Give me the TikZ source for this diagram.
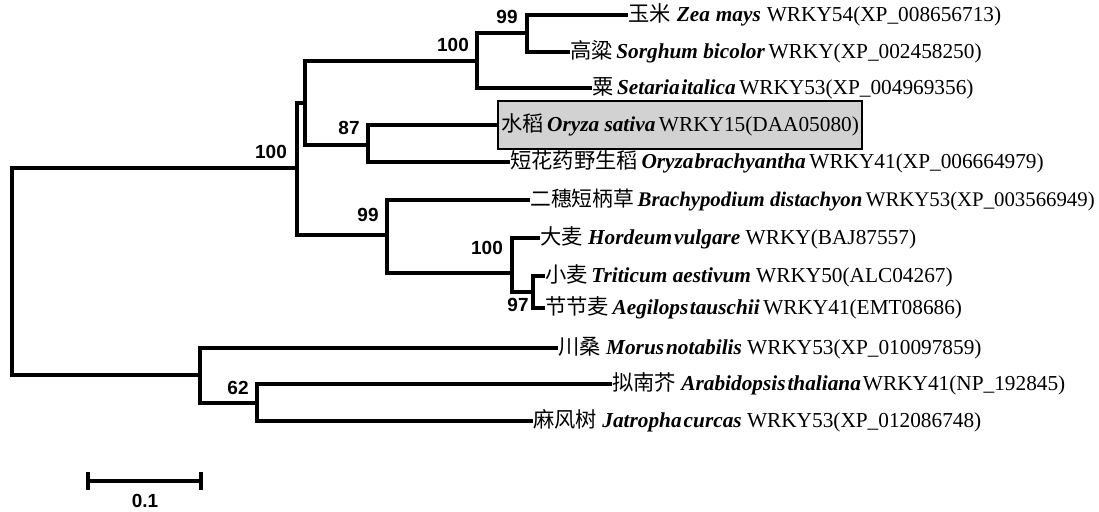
\documentclass[tikz,border=0pt]{standalone}
\usepackage{fontspec}
\setmainfont{Liberation Serif}
\newfontfamily\cjk{Noto Sans CJK SC}
\newfontfamily\bsfont{Liberation Sans}
\newcommand{\spname}[1]{\textbf{\textit{#1}}}
\begin{document}
\begin{tikzpicture}[x=1pt,y=-1pt,
  br/.style={line width=3.1pt, line join=miter},
  lbl/.style={anchor=west, inner sep=0pt, font=\fontsize{21.3}{25}\selectfont},
  bs/.style={inner sep=0pt, font=\bsfont\bfseries\fontsize{19}{21}\selectfont}]
\useasboundingbox (0,0) rectangle (1099,511);
% internal nodes
\coordinate (r)    at (12,271);
\coordinate (n297) at (297,168);
\coordinate (n305) at (305,103);
\coordinate (n477) at (477,61);
\coordinate (n527) at (527,33);
\coordinate (n368) at (368,145);
\coordinate (n387) at (387,235);
\coordinate (n512) at (512,273);
\coordinate (n533) at (533,292);
\coordinate (n200) at (200,375);
\coordinate (n257) at (257,403);
% leaves
\node[lbl] (zea) at (628,15) {{\cjk 玉米}\hspace{6pt}\spname{Zea\hspace{6pt}mays}\hspace{6pt}WRKY54(XP\_008656713)};
\node[lbl] (sor) at (570,52) {{\cjk 高粱}\,\spname{Sorghum bicolor}\,WRKY(XP\_002458250)};
\node[lbl] (set) at (592,88) {{\cjk 粟}\,\spname{Setaria\hspace{1.5pt}italica}\,WRKY53(XP\_004969356)};
\node[lbl, draw, fill=gray!35, line width=2pt, inner xsep=3pt, minimum height=48pt, minimum width=362pt] (osa) at (497,125) {{\cjk 水稻}\,\spname{Oryza sativa}\,WRKY15(DAA05080)};
\node[lbl] (obr) at (510,162) {{\cjk 短花药野生稻}\,\spname{Oryza\hspace{1pt}brachyantha}\,WRKY41(XP\_006664979)};
\node[lbl, font=\fontsize{20.8}{25}\selectfont] (bdi) at (530,200) {{\cjk 二穗短柄草}\,\spname{Brachypodium distachyon}\,WRKY53(XP\_003566949)};
\node[lbl] (hvu) at (540,238) {{\cjk 大麦}\ \spname{Hordeum\hspace{2pt}vulgare}\ WRKY(BAJ87557)};
\node[lbl] (tae) at (545,276) {{\cjk 小麦}\,\spname{Triticum aestivum}\ WRKY50(ALC04267)};
\node[lbl] (ata) at (545,308) {{\cjk 节节麦}\,\spname{Aegilops\hspace{1.5pt}tauschii}\,WRKY41(EMT08686)};
\node[lbl] (mno) at (558,348) {{\cjk 川桑}\ \spname{Morus\hspace{2pt}notabilis}\ WRKY53(XP\_010097859)};
\node[lbl] (ath) at (612,384) {{\cjk 拟南芥}\ \spname{Arabidopsis\hspace{2pt}thaliana}\hspace{2pt}WRKY41(NP\_192845)};
\node[lbl] (jcu) at (533,421) {{\cjk 麻风树}\ \spname{Jatropha\hspace{2pt}curcas}\ WRKY53(XP\_012086748)};
% branches
\draw[br] (r) |- (n297);
\draw[br] (r) |- (n200);
\draw[br] (n297) |- (n305);
\draw[br] (n297) |- (n387);
\draw[br] (n305) |- (n477);
\draw[br] (n305) |- (n368);
\draw[br] (n477) |- (n527);
\draw[br] (n477) |- (set.west);
\draw[br] (n527) |- (zea.west);
\draw[br] (n527) |- (sor.west);
\draw[br] (n368) |- (osa.west);
\draw[br] (n368) |- (obr.west);
\draw[br] (n387) |- (bdi.west);
\draw[br] (n387) |- (n512);
\draw[br] (n512) |- (hvu.west);
\draw[br] (n512) |- (n533);
\draw[br] (n533) |- (tae.west);
\draw[br] (n533) |- (ata.west);
\draw[br] (n200) |- (mno.west);
\draw[br] (n200) |- (n257);
\draw[br] (n257) |- (ath.west);
\draw[br] (n257) |- (jcu.west);
% bootstrap values
\node[bs] (b1) at (507,17) {99};
\node[bs] (b2) at (453,45) {100};
\node[bs] (b3) at (349,128) {87};
\node[bs] (b4) at (271,152) {100};
\node[bs] (b5) at (368,215) {99};
\node[bs] (b6) at (487,248) {100};
\node[bs] (b7) at (518,305) {97};
\node[bs] (b8) at (238,388) {62};
% scale bar
\coordinate (sL) at (88,481);
\coordinate (sR) at (201,481);
\draw[br] (sL) -- (sR);
\draw[br] ([yshift=9pt]sL) -- ([yshift=-9pt]sL);
\draw[br] ([yshift=9pt]sR) -- ([yshift=-9pt]sR);
\node[bs] (sc) at (145,501) {0.1};
\end{tikzpicture}
\end{document}
